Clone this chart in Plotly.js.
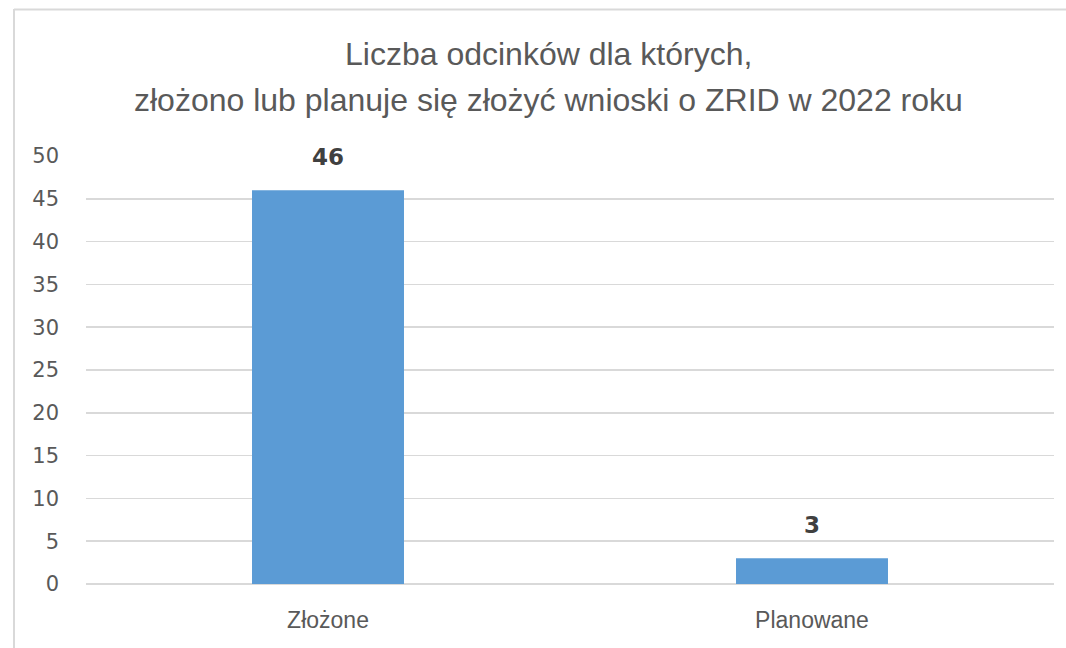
<!DOCTYPE html>
<html>
<head>
<meta charset="utf-8">
<script src="https://cdn.plot.ly/plotly-3.0.1.min.js"></script>
<style>html,body{margin:0;padding:0;background:#fff;}#chart{width:1066px;height:648px;}</style>
</head>
<body>
<div id="chart"></div>
<script>
var categories = ["Złożone", "Planowane"];
var values = [46, 3];
var tickValues = [0, 5, 10, 15, 20, 25, 30, 35, 40, 45, 50];
var titleLines = ["Liczba odcinków dla których,", "złożono lub planuje się złożyć wnioski o ZRID w 2022 roku"];

var W = 1066, H = 648, ml = 86, mr = 12, mt = 156, mb = 64;
var pw = W - ml - mr, ph = H - mt - mb;
function px(x){ return (x - ml) / pw; }
function py(y){ return (H - mb - y) / ph; }

var font = "Liberation Sans, Arial, sans-serif";

var trace = {
  type: "bar",
  x: categories,
  y: values,
  marker: {color: "#5b9bd5"},
  hoverinfo: "none"
};

var annotations = categories.map(function(c, i){
  return {x: c, y: values[i], xref: "x", yref: "y", text: "<b>" + values[i] + "</b>",
    showarrow: false, yanchor: "middle", yshift: 33,
    font: {family: "DejaVu Sans, sans-serif", size: 23, color: "#404040"}};
});

var titleY = [54, 100];
titleLines.forEach(function(t, i){
  annotations.push({xref: "paper", yref: "paper", x: px(548), y: py(titleY[i]),
    xanchor: "center", yanchor: "middle", text: t, showarrow: false,
    font: {family: font, size: 32, color: "#595959"}});
});

var layout = {
  width: W, height: H,
  margin: {l: ml, r: mr, t: mt, b: mb, pad: 0},
  paper_bgcolor: "#fff", plot_bgcolor: "#fff",
  showlegend: false,
  bargap: 0.686,
  xaxis: {type: "category", showgrid: false, zeroline: false, showline: false, ticks: "",
    tickfont: {family: font, size: 23, color: "#595959"}, ticklabelstandoff: 20, fixedrange: true},
  yaxis: {range: [0, 50], tickvals: tickValues, ticktext: tickValues.map(String),
    showgrid: true, gridcolor: "#d9d9d9", gridwidth: 1.5, zeroline: true, zerolinecolor: "#d9d9d9", zerolinewidth: 1.5,
    showline: false, ticks: "", ticklabelstandoff: 26,
    tickfont: {family: "DejaVu Sans, sans-serif", size: 21, color: "#595959"}, fixedrange: true},
  annotations: annotations,
  shapes: [
    {type: "line", xref: "paper", yref: "paper", x0: px(14), x1: px(1066), y0: py(9.5), y1: py(9.5),
      line: {color: "#d9d9d9", width: 2}},
    {type: "line", xref: "paper", yref: "paper", x0: px(14), x1: px(14), y0: py(9), y1: py(648),
      line: {color: "#d9d9d9", width: 2}}
  ]
};

Plotly.newPlot("chart", [trace], layout, {displayModeBar: false, staticPlot: true});
</script>
</body>
</html>
